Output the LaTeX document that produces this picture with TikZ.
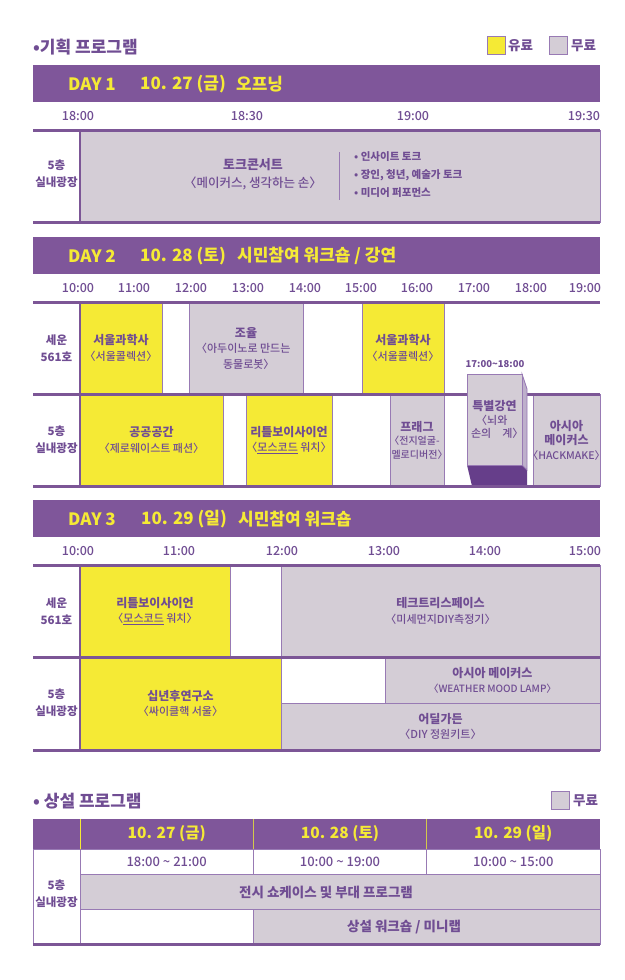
\documentclass[tikz,border=0pt]{standalone}
\usepackage{fontspec}
\setmainfont{Noto Sans CJK KR}[RawFeature=+halt]
\IfFontExistsTF{Noto Sans CJK KR Medium}{\newfontfamily\medf{Noto Sans CJK KR Medium}[RawFeature=+halt]}{\newfontfamily\medf{Noto Sans CJK KR}[RawFeature=+halt,FakeBold=1.2]}
\definecolor{bannerP}{RGB}{127,86,154}
\definecolor{lineP}{RGB}{124,86,150}
\definecolor{thinP}{RGB}{152,122,180}
\definecolor{textP}{RGB}{112,77,147}
\definecolor{yelF}{RGB}{245,234,53}
\definecolor{grayF}{RGB}{212,205,214}
\definecolor{darkP}{RGB}{102,62,138}
\definecolor{sideP}{RGB}{190,176,203}
\newcommand\fsz[2]{\fontsize{#1}{#2}\selectfont}
\newcommand\tb{\rmfamily\bfseries\fontsize{12}{15}\selectfont}
\newcommand\cellbox[8][]{\node[cell,#1,fill=#7,minimum width={(#5-#3)*1pt},minimum height={(#6-#4)*1pt}] (#2) at ({(#3+#5)/2},{(#4+#6)/2}) {#8};}
\tikzset{
 cell/.style={draw=thinP,line width=0.8pt,inner sep=0pt,align=center,text=textP,font=\medf\fsz{11}{15.5}},
 rule/.style={draw=lineP,line width=3pt},
 vrule/.style={draw=lineP,line width=2.6pt},
 lbl/.style={inner sep=0pt,align=center,text=textP,font=\fsz{11.5}{17}\bfseries},
 tm/.style={inner sep=0pt,text=textP,font=\medf\fsz{12.5}{14}},
 bantext/.style={inner sep=0pt,anchor=west,text=yelF,font=\fsz{17}{20}\bfseries},
 hd/.style={inner sep=0pt,anchor=west,text=textP,font=\fsz{17}{20}\bfseries},
 legbox/.style={draw=thinP,line width=1pt,minimum size=18pt,inner sep=0pt},
 legtext/.style={inner sep=0pt,anchor=west,text=textP,font=\fsz{13.5}{16}\bfseries},
 banner/.style={fill=bannerP,inner sep=0pt,minimum width=567pt},
 plain/.style={inner sep=0pt,text=textP,align=center},
}
\begin{document}
\begin{tikzpicture}[x=1pt,y=-1pt]
\useasboundingbox[fill=white] (0,0) rectangle (624,980);

% ---------- heading & legend
\node[hd] (t1) at (33,47) {•기획 프로그램};
\node[legbox,fill=yelF] (ly) at (496,45) {};
\node[legtext] (lyt) at (508,46) {유료};
\node[legbox,fill=grayF] (lg) at (558,45) {};
\node[legtext] (lgt) at (571,46) {무료};

% ---------- DAY 1
\node[banner,minimum height=37pt] (b1) at (316.5,83.5) {};
\node[bantext] (b1a) at (68,84) {DAY 1};
\node[bantext] (b1b) at (140,84) {10. 27 (금)};
\node[bantext] (b1c) at (236,84) {오프닝};
\node[tm] (d1t1) at (78,116) {18:00};
\node[tm] (d1t2) at (247,116) {18:30};
\node[tm] (d1t3) at (413,116) {19:00};
\node[tm] (d1t4) at (584,116) {19:30};

\cellbox{d1c}{80}{130}{600}{222}{grayF}{}
\node[lbl] (d1l) at (56.5,174) {5층\\실내광장};
\node[plain,font=\medf\fsz{12.5}{18}] (d1m) at (253,174) {{\rmfamily\bfseries\fsz{13}{18}토크콘서트}\\〈메이커스, 생각하는 손〉};
\coordinate (dv1) at (339,152);
\coordinate (dv2) at (339,200);
\draw[thinP,line width=1pt] (dv1) -- (dv2);
\node[inner sep=0pt,anchor=west,align=left,text=textP,font=\fsz{10.5}{18}\bfseries] (d1b) at (354,175) {• 인사이트 토크\\• 장인, 청년, 예술가 토크\\• 미디어 퍼포먼스};
\draw[rule] (33,130) -- (600,130);
\draw[rule] (33,222) -- (600,222);
\draw[vrule] (80,130) -- (80,222);

% ---------- DAY 2
\node[banner,minimum height=37pt] (b2) at (316.5,255.5) {};
\node[bantext] (b2a) at (68,256) {DAY 2};
\node[bantext] (b2b) at (140,256) {10. 28 (토)};
\node[bantext] (b2c) at (237,256) {시민참여 워크숍 / 강연};
\node[tm] (d2t1) at (78,288) {10:00};
\node[tm] (d2t2) at (134,288) {11:00};
\node[tm] (d2t3) at (191,288) {12:00};
\node[tm] (d2t4) at (248,288) {13:00};
\node[tm] (d2t5) at (305,288) {14:00};
\node[tm] (d2t6) at (361,288) {15:00};
\node[tm] (d2t7) at (417,288) {16:00};
\node[tm] (d2t8) at (474,288) {17:00};
\node[tm] (d2t9) at (531,288) {18:00};
\node[tm] (d2t10) at (585,288) {19:00};

\cellbox{d2a}{80}{302}{162}{394}{yelF}{{\tb 서울과학사}\\〈서울콜렉션〉}
\cellbox{d2b}{189}{302}{303}{394}{grayF}{{\tb 조율}\\〈아두이노로 만드는\\동물로봇〉}
\cellbox{d2c}{362}{302}{444}{394}{yelF}{{\tb 서울과학사}\\〈서울콜렉션〉}
\cellbox{d2d}{80}{394}{223}{486}{yelF}{{\tb 공공공간}\\〈제로웨이스트 패션〉}
\cellbox{d2e}{246}{394}{332}{486}{yelF}{{\tb 리틀보이사이언}\\〈\underline{모스코드} 워치〉}
\cellbox[font=\medf\fsz{10}{13.5}]{d2f}{390}{394}{444}{486}{grayF}{{\tb 프래그}\\〈전지얼굴-\\멜로디버전〉}
\cellbox[font=\medf\fsz{10.5}{14.5}]{d2h}{533}{394}{600}{486}{grayF}{{\tb 아시아}\\{\tb 메이커스}\\〈HACKMAKE〉}
\node[lbl] (d2l1) at (56.5,348) {세운\\561호};
\node[lbl] (d2l2) at (56.5,440) {5층\\실내광장};
\draw[rule] (33,302) -- (600,302);
\draw[rule] (33,394) -- (600,394);
% 3D special lecture box
\node[inner sep=0pt,text=textP,font=\fsz{9.5}{11}\bfseries] (sl) at (495,364) {17:00\textasciitilde18:00};
\fill[darkP] (467,465) -- (522,465) -- (527,470) -- (527,486) -- (472,486) -- cycle;
\filldraw[fill=sideP,draw=thinP,line width=0.8pt] (522,374) -- (527,389) -- (527,470) -- (522,465) -- cycle;
\cellbox[font=\medf\fsz{11}{13.5}]{d2g}{467}{374}{522}{465}{grayF}{{\tb 특별강연}\\〈뇌와\\손의\quad 계〉}
\draw[rule] (33,486) -- (600,486);
\draw[vrule] (80,302) -- (80,486);

% ---------- DAY 3
\node[banner,minimum height=37pt] (b3) at (316.5,518.5) {};
\node[bantext] (b3a) at (68,519) {DAY 3};
\node[bantext] (b3b) at (141,519) {10. 29 (일)};
\node[bantext] (b3c) at (238,519) {시민참여 워크숍};
\node[tm] (d3t1) at (78,551) {10:00};
\node[tm] (d3t2) at (179,551) {11:00};
\node[tm] (d3t3) at (282,551) {12:00};
\node[tm] (d3t4) at (384,551) {13:00};
\node[tm] (d3t5) at (485,551) {14:00};
\node[tm] (d3t6) at (585,551) {15:00};

\cellbox{d3a}{80}{565}{230}{657}{yelF}{{\tb 리틀보이사이언}\\〈\underline{모스코드} 워치〉}
\cellbox{d3b}{281}{565}{600}{657}{grayF}{{\tb 테크트리스페이스}\\〈미세먼지DIY측정기〉}
\cellbox{d3c}{80}{657}{281}{750}{yelF}{{\tb 십년후연구소}\\〈싸이클핵 서울〉}
\cellbox[font=\medf\fsz{10}{15}]{d3d}{385}{657}{600}{703}{grayF}{{\tb 아시아 메이커스}\\〈WEATHER MOOD LAMP〉}
\cellbox{d3e}{281}{703}{600}{750}{grayF}{{\tb 어딜가든}\\〈DIY 정원키트〉}
\node[lbl] (d3l1) at (56.5,611) {세운\\561호};
\node[lbl] (d3l2) at (56.5,703) {5층\\실내광장};
\draw[rule] (33,565) -- (600,565);
\draw[rule] (33,657) -- (600,657);
\draw[rule] (33,750) -- (600,750);
\draw[vrule] (80,565) -- (80,750);

% ---------- permanent programme
\node[hd] (t2) at (33,801) {• 상설 프로그램};
\node[legbox,fill=grayF] (lg2) at (560,800) {};
\node[legtext] (lg2t) at (573,801) {무료};

\node[banner,minimum height=30pt] (hb) at (316.5,834) {};
\draw[yelF,line width=0.8pt] (80,819) -- (80,849);
\draw[yelF!70!gray,line width=0.8pt] (253.3,819) -- (253.3,849);
\draw[yelF!70!gray,line width=0.8pt] (426.7,819) -- (426.7,849);
\node[inner sep=0pt,text=yelF,font=\fsz{15.5}{18}\bfseries] (h1) at (166.7,834) {10. 27 (금)};
\node[inner sep=0pt,text=yelF,font=\fsz{15.5}{18}\bfseries] (h2) at (340,834) {10. 28 (토)};
\node[inner sep=0pt,text=yelF,font=\fsz{15.5}{18}\bfseries] (h3) at (513.3,834) {10. 29 (일)};

\cellbox{s0}{33}{849}{80}{944}{white}{}
\cellbox[font=\medf\fsz{13}{14}]{s1}{80}{849}{253.3}{874}{white}{18:00 \textasciitilde{} 21:00}
\cellbox[font=\medf\fsz{13}{14}]{s2}{253.3}{849}{426.7}{874}{white}{10:00 \textasciitilde{} 19:00}
\cellbox[font=\medf\fsz{13}{14}]{s3}{426.7}{849}{600}{874}{white}{10:00 \textasciitilde{} 15:00}
\cellbox{s4}{80}{874}{600}{909}{grayF}{}
\cellbox{s5}{80}{909}{253.3}{944}{white}{}
\cellbox{s6}{253.3}{909}{600}{944}{grayF}{}
\node[lbl] (sl0) at (56.5,894) {5층\\실내광장};
\node[plain,font=\fsz{13.5}{16}\bfseries] (s4t) at (326,892) {전시 쇼케이스 및 부대 프로그램};
\node[plain,font=\fsz{13.5}{16}\bfseries] (s6t) at (404,927) {상설 워크숍 / 미니랩};
\draw[rule] (33,944) -- (600,944);
\end{tikzpicture}
\end{document}
